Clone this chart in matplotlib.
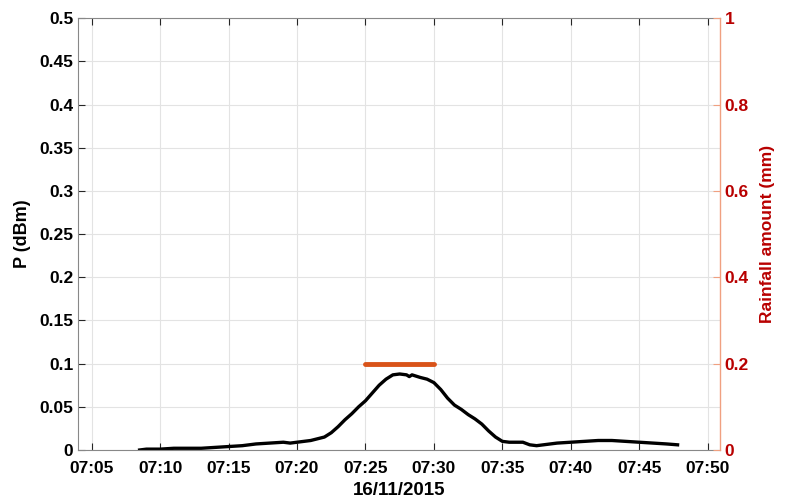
import matplotlib
matplotlib.use("Agg")
import matplotlib.pyplot as plt

plt.rcParams['font.family'] = ['Liberation Sans', 'DejaVu Sans']
plt.rcParams['font.weight'] = 'bold'

# minutes after 07:00 on 16/11/2015
t_min = [8.5, 9, 10, 11, 12, 13, 14, 15, 16, 17, 18, 19, 19.5, 20, 21, 22, 22.5, 23, 23.5,
         24, 24.5, 25, 25.5, 26, 26.5, 27, 27.5, 28, 28.2, 28.4, 29, 29.5, 30, 30.5, 31,
         31.5, 32, 32.5, 33, 33.5, 34, 34.5, 35, 35.5, 36, 36.5, 37, 37.5, 38, 39, 40,
         41, 42, 43, 44, 45, 46, 47, 47.8]
power = [0.000, 0.001, 0.001, 0.002, 0.002, 0.002, 0.003, 0.004, 0.005, 0.007, 0.008,
         0.009, 0.008, 0.009, 0.011, 0.015, 0.020, 0.027, 0.035, 0.042, 0.050, 0.057,
         0.066, 0.075, 0.082, 0.087, 0.088, 0.087, 0.085, 0.087, 0.084, 0.082, 0.078,
         0.070, 0.060, 0.052, 0.047, 0.041, 0.036, 0.030, 0.022, 0.015, 0.010, 0.009,
         0.009, 0.009, 0.006, 0.005, 0.006, 0.008, 0.009, 0.010, 0.011, 0.011, 0.010,
         0.009, 0.008, 0.007, 0.006]

rain_t = [25, 30]
rain_amount = [0.2, 0.2]

xticks = [5, 10, 15, 20, 25, 30, 35, 40, 45, 50]
xticklabels = ['07:05', '07:10', '07:15', '07:20', '07:25', '07:30', '07:35', '07:40', '07:45', '07:50']
yticks_left = [0, 0.05, 0.1, 0.15, 0.2, 0.25, 0.3, 0.35, 0.4, 0.45, 0.5]
yticks_right = [0, 0.2, 0.4, 0.6, 0.8, 1]

fig = plt.figure(figsize=(7.85, 5.01), dpi=100)
ax = fig.add_axes([0.0994, 0.1018, 0.8178, 0.862])
ax.plot(t_min, power, color='black', lw=2.4)
ax.set_xlim(4.0, 50.9)
ax.set_ylim(0, 0.5)
ax.set_xticks(xticks)
ax.set_xticklabels(xticklabels)
ax.set_yticks(yticks_left)
ax.set_yticklabels(['0', '0.05', '0.1', '0.15', '0.2', '0.25', '0.3', '0.35', '0.4', '0.45', '0.5'])
ax.grid(True, color='#e3e3e3', lw=0.8)
ax.set_axisbelow(True)
ax.tick_params(axis='both', labelsize=12.5, colors='#262626', length=5, width=0.8,
               direction='in', top=True)
ax.tick_params(axis='x', pad=8)
for lab in ax.get_xticklabels() + ax.get_yticklabels():
    lab.set_color('black')
for s in ['left', 'top', 'bottom']:
    ax.spines[s].set_color('#888888')
    ax.spines[s].set_linewidth(0.8)
ax.spines['right'].set_visible(False)
ax.set_xlabel('16/11/2015', fontsize=13.5, fontweight='bold', labelpad=4)
ax.set_ylabel('P (dBm)', fontsize=13, fontweight='bold', labelpad=6)

ax2 = ax.twinx()
ax2.plot(rain_t, rain_amount, color='#D95319', lw=3.5, solid_capstyle='round')
ax2.set_ylim(0, 1)
ax2.set_yticks(yticks_right)
ax2.set_yticklabels(['0', '0.2', '0.4', '0.6', '0.8', '1'])
ax2.tick_params(axis='y', labelsize=12.5, colors='#F0A080', labelcolor='#B80000',
                length=5, width=0.8, direction='in')
for s in ['left', 'top', 'bottom']:
    ax2.spines[s].set_visible(False)
ax2.spines['right'].set_color('#F0A080')
ax2.spines['right'].set_linewidth(1.0)
ax2.set_ylabel('Rainfall amount (mm)', fontsize=12.5, fontweight='bold', color='#B80000', labelpad=8)

fig.savefig('out.png', dpi=100)
